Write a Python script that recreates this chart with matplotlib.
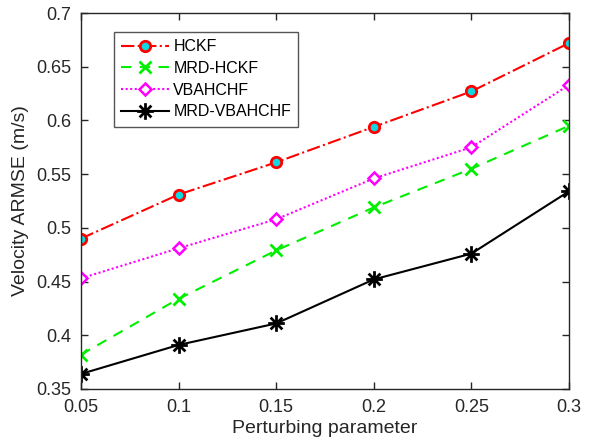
import matplotlib
matplotlib.use("Agg")
import matplotlib.pyplot as plt
from matplotlib.path import Path

# Perturbing parameter values
x_vals = [0.05, 0.10, 0.15, 0.20, 0.25, 0.30]

# Velocity ARMSE for each filter
hckf = [0.490, 0.531, 0.561, 0.594, 0.627, 0.672]
mrd_hckf = [0.382, 0.434, 0.479, 0.519, 0.555, 0.595]
vbahchf = [0.453, 0.481, 0.508, 0.546, 0.575, 0.633]
mrd_vbahchf = [0.364, 0.391, 0.411, 0.452, 0.476, 0.534]

x_ticks = [0.05, 0.1, 0.15, 0.2, 0.25, 0.3]
x_tick_labels = ["0.05", "0.1", "0.15", "0.2", "0.25", "0.3"]
y_ticks = [0.35, 0.4, 0.45, 0.5, 0.55, 0.6, 0.65, 0.7]
y_tick_labels = ["0.35", "0.4", "0.45", "0.5", "0.55", "0.6", "0.65", "0.7"]

plt.rcParams["font.family"] = ["Liberation Sans", "DejaVu Sans"]

# Eight-armed asterisk marker
s = 0.7071
asterisk = Path(
    [(-1, 0), (1, 0), (0, -1), (0, 1), (-s, -s), (s, s), (-s, s), (s, -s)],
    [Path.MOVETO, Path.LINETO] * 4,
)

fig = plt.figure(figsize=(5.93, 4.47), dpi=100)
ax = fig.add_axes([0.1366, 0.1298, 0.8229, 0.8411])

lw = 1.5
ax.plot(x_vals, hckf, color="red", linestyle="-.", linewidth=lw,
        marker="o", markersize=7.5, markerfacecolor="#10d8e0",
        markeredgecolor="red", markeredgewidth=2, label="HCKF")
ax.plot(x_vals, mrd_hckf, color="#00ee00", linestyle=(0, (5, 4)), linewidth=lw,
        marker="x", markersize=8, markeredgewidth=2, label="MRD-HCKF")
ax.plot(x_vals, vbahchf, color="magenta", linestyle=(0, (1, 1.2)), linewidth=lw,
        marker="D", markersize=6.5, markerfacecolor="white",
        markeredgecolor="magenta", markeredgewidth=1.8, label="VBAHCHF")
ax.plot(x_vals, mrd_vbahchf, color="black", linestyle="-", linewidth=lw,
        marker=asterisk, markersize=12, markeredgewidth=2,
        markeredgecolor="black", label="MRD-VBAHCHF")

ax.set_xlim(0.05, 0.3)
ax.set_ylim(0.35, 0.7)
ax.set_xticks(x_ticks)
ax.set_xticklabels(x_tick_labels)
ax.set_yticks(y_ticks)
ax.set_yticklabels(y_tick_labels)
ax.tick_params(direction="in", top=True, right=True, length=5, width=1,
               labelsize=13, colors="#262626", pad=7)
for sp in ax.spines.values():
    sp.set_linewidth(1)
    sp.set_color("#262626")

ax.set_xlabel("Perturbing parameter", fontsize=14, color="#262626", labelpad=3)
ax.set_ylabel("Velocity ARMSE (m/s)", fontsize=14, color="#262626", labelpad=5)

leg = ax.legend(loc="upper left", bbox_to_anchor=(0.068, 0.949), fontsize=11.5,
                handlelength=3.0, handletextpad=0.25, borderpad=0.45,
                borderaxespad=0, labelspacing=0.42, fancybox=False,
                framealpha=1, edgecolor="#555555")
leg.get_frame().set_linewidth(1)

fig.savefig("out.png", dpi=100)
